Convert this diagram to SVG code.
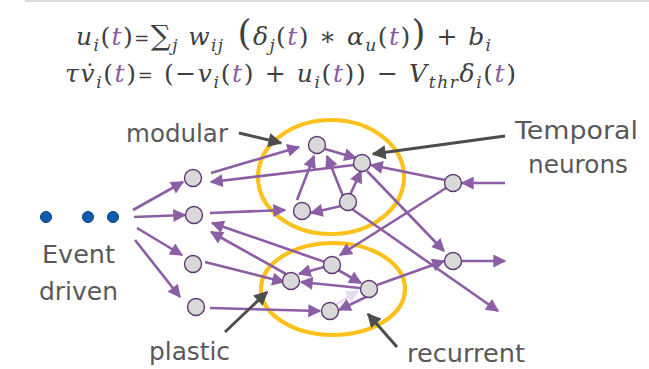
<svg xmlns="http://www.w3.org/2000/svg" width="649" height="369" viewBox="0 0 649 369">
<style>
.eq{font-family:"DejaVu Serif","Liberation Serif",serif;font-size:25px;fill:#404040}
.it{font-style:italic}
.sub{font-size:17px;font-style:italic}
.pu{fill:#8a5aa5}
.lbl{font-family:"DejaVu Sans","Liberation Sans",sans-serif;font-size:25px;fill:#595959}
.e{stroke:#8c5ea6;stroke-width:2.6;fill:none;marker-end:url(#ap)}
.el{stroke:#e4dbee;stroke-width:2.6;fill:none;marker-end:url(#al)}
.d{stroke:#4d4d4d;stroke-width:3;fill:none;marker-end:url(#ad)}
.n{fill:#d9d9d9;stroke:#5e3a73;stroke-width:1.4}
.dot{fill:#0d5cab;stroke:#0a3f7c;stroke-width:1}
.ring{fill:none;stroke:#fcc21b;stroke-width:4.2}
</style>
<defs>
<marker id="ap" viewBox="0 0 10 10" refX="9" refY="5" markerWidth="15" markerHeight="13" markerUnits="userSpaceOnUse" orient="auto"><path d="M0,0 L10,5 L0,10 z" fill="#8c5ea6"/></marker>
<marker id="al" viewBox="0 0 10 10" refX="9" refY="5" markerWidth="15" markerHeight="13" markerUnits="userSpaceOnUse" orient="auto"><path d="M0,0 L10,5 L0,10 z" fill="#e4dbee"/></marker>
<marker id="ad" viewBox="0 0 10 10" refX="9" refY="5" markerWidth="16" markerHeight="14" markerUnits="userSpaceOnUse" orient="auto"><path d="M0,0 L10,5 L0,10 z" fill="#4d4d4d"/></marker>
</defs>
<rect width="649" height="369" fill="#ffffff"/>
<line x1="25" y1="1" x2="649" y2="1" stroke="#dcdcdc" stroke-width="2"/>

<g id="equations">
<text class="eq" x="76" y="45" textLength="415" lengthAdjust="spacing"><tspan class="it">u</tspan><tspan class="sub" dy="6">i</tspan><tspan dy="-6">(</tspan><tspan class="it pu">t</tspan>)<tspan font-size="18">=</tspan><tspan font-size="28">∑</tspan><tspan class="sub" dy="6">j</tspan><tspan class="it" dy="-6"> w</tspan><tspan class="sub" dy="6">ij</tspan><tspan dy="-6" font-size="36"> (</tspan><tspan class="it">δ</tspan><tspan class="sub" dy="6">j</tspan><tspan dy="-6">(</tspan><tspan class="it pu">t</tspan>) ∗ <tspan class="it">α</tspan><tspan class="sub" dy="6">u</tspan><tspan dy="-6">(</tspan><tspan class="it pu">t</tspan>)<tspan font-size="36">)</tspan> +  <tspan class="it">b</tspan><tspan class="sub" dy="6">i</tspan></text>
<text class="eq" x="65" y="82" textLength="451" lengthAdjust="spacing"><tspan class="it">τv̇</tspan><tspan class="sub" dy="6">i</tspan><tspan dy="-6">(</tspan><tspan class="it pu">t</tspan>)<tspan font-size="18">=</tspan> (−<tspan class="it">v</tspan><tspan class="sub" dy="6">i</tspan><tspan dy="-6">(</tspan><tspan class="it pu">t</tspan>) + <tspan class="it">u</tspan><tspan class="sub" dy="6">i</tspan><tspan dy="-6">(</tspan><tspan class="it pu">t</tspan>))  − <tspan class="it">V</tspan><tspan class="sub" dy="6">thr</tspan><tspan class="it" dy="-6">δ</tspan><tspan class="sub" dy="6">i</tspan><tspan dy="-6">(</tspan><tspan class="it pu">t</tspan>)</text>
</g>

<g id="rings">
<ellipse class="ring" cx="331" cy="177" rx="73" ry="57"/>
<ellipse class="ring" cx="333" cy="289" rx="72" ry="46"/>
</g>

<g id="connectors">
<path class="e" d="M133,210 L183,182"/>
<path class="e" d="M134,217 L185,215"/>
<path class="e" d="M137,228 L182,255"/>
<path class="e" d="M135,240 L180,297"/>
<path class="e" d="M211,173 L299,147"/>
<path class="e" d="M354,165 L211,182"/>
<path class="e" d="M210,213 L285,210"/>
<path class="e" d="M325,149 L356,158"/>
<path class="e" d="M297,200 L314,156"/>
<path class="e" d="M343,196 L327,156"/>
<path class="e" d="M350,195 L361,171"/>
<path class="e" d="M341,206 L311,213"/>
<path class="e" d="M352,209 L498,311"/>
<path class="e" d="M367,171 L444,251"/>
<path class="e" d="M505,183 L462,183"/>
<path class="e" d="M445,180 L371,165"/>
<path class="e" d="M446,188 L340,255"/>
<path class="e" d="M462,261 L505,261"/>
<path class="e" d="M377,285 L444,261"/>
<path class="e" d="M205,262 L284,282"/>
<path class="e" d="M210,308 L320,311"/>
<path class="e" d="M324,267 L299,274"/>
<path class="e" d="M338,270 L361,283"/>
<path class="e" d="M360,288 L301,282"/>
<path class="el" d="M335,305 L358,291"/>
<path class="e" d="M366,297 L339,310"/>
<path class="e" d="M325,262 L212,223"/>
<path class="e" d="M286,274 L211,232"/>
</g>

<g id="label-arrows">
<path class="d" d="M239,133 L281,143"/>
<path class="d" d="M505,136 L373,154"/>
<path class="d" d="M225,332 L267,292"/>
<path class="d" d="M397,347 L368,314"/>
</g>

<g id="input-dots">
<circle class="dot" cx="46" cy="217" r="5.5"/>
<circle class="dot" cx="88" cy="217" r="5.5"/>
<circle class="dot" cx="113" cy="217" r="5.5"/>
</g>

<g id="node-A"><circle class="n" cx="317" cy="145" r="8.5"/></g>
<g id="node-B"><circle class="n" cx="362" cy="163" r="8.5"/></g>
<g id="node-C"><circle class="n" cx="193" cy="178" r="8.5"/></g>
<g id="node-D"><circle class="n" cx="194" cy="215" r="8.5"/></g>
<g id="node-E"><circle class="n" cx="302" cy="211" r="8.5"/></g>
<g id="node-F"><circle class="n" cx="348" cy="202" r="8.5"/></g>
<g id="node-G"><circle class="n" cx="453" cy="183" r="8.5"/></g>
<g id="node-H"><circle class="n" cx="193" cy="264" r="8.5"/></g>
<g id="node-I"><circle class="n" cx="196" cy="307" r="8.5"/></g>
<g id="node-J"><circle class="n" cx="291" cy="281" r="8.5"/></g>
<g id="node-K"><circle class="n" cx="332" cy="265" r="8.5"/></g>
<g id="node-L"><circle class="n" cx="369" cy="289" r="8.5"/></g>
<g id="node-M"><circle class="n" cx="330" cy="311" r="8.5"/></g>
<g id="node-N"><circle class="n" cx="453" cy="261" r="8.5"/></g>

<g id="labels">
<text class="lbl" x="126" y="142" textLength="102" lengthAdjust="spacingAndGlyphs">modular</text>
<text class="lbl" x="515" y="139" textLength="123" lengthAdjust="spacingAndGlyphs">Temporal</text>
<text class="lbl" x="528" y="173" textLength="100" lengthAdjust="spacingAndGlyphs">neurons</text>
<text class="lbl" x="42" y="263" textLength="73" lengthAdjust="spacingAndGlyphs">Event</text>
<text class="lbl" x="39" y="300" textLength="79" lengthAdjust="spacingAndGlyphs">driven</text>
<text class="lbl" x="149" y="360" textLength="81" lengthAdjust="spacingAndGlyphs">plastic</text>
<text class="lbl" x="407" y="362" textLength="118" lengthAdjust="spacingAndGlyphs">recurrent</text>
</g>
</svg>
